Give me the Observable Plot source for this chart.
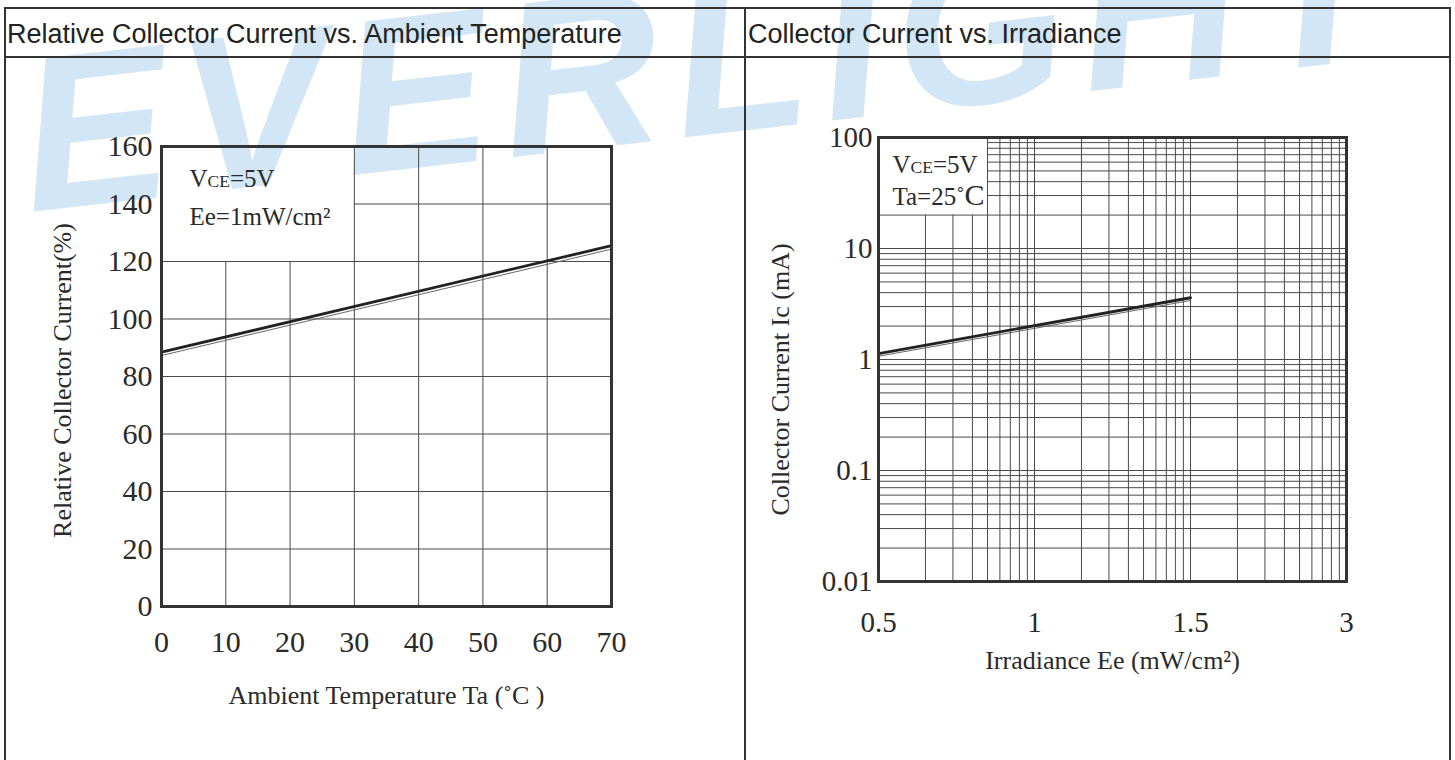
<!DOCTYPE html>
<html>
<head>
<meta charset="utf-8">
<script src="https://cdn.jsdelivr.net/npm/d3@7"></script>
<script src="https://cdn.jsdelivr.net/npm/@observablehq/plot@0.6"></script>
<style>
  html, body { margin: 0; padding: 0; background: #fff; }
  body { position: relative; width: 1455px; height: 760px; overflow: hidden; font-family: "Liberation Sans", Arial, sans-serif; }
  #wm { position: absolute; left: 0; top: 0; z-index: 0; }
  .line { position: absolute; background: #333; z-index: 1; }
  .hdr { position: absolute; top: 11px; height: 46px; line-height: 46px; font-size: 27px; color: #222; z-index: 2; white-space: nowrap; }
  .chart { position: absolute; top: 58px; z-index: 3; }
</style>
</head>
<body>
<svg id="wm" width="1455" height="760">
  <text x="30" y="212" transform="rotate(-6.5 30 212)" font-family="Liberation Sans" font-weight="bold" font-style="italic" font-size="220" fill="#d3e6f5" letter-spacing="14">EVERLIGHT</text>
</svg>
<div class="line" style="left:4px;top:7px;width:1447px;height:2px"></div>
<div class="line" style="left:4px;top:56px;width:1447px;height:2px"></div>
<div class="line" style="left:4px;top:7px;width:2px;height:760px"></div>
<div class="line" style="left:1449px;top:7px;width:2px;height:760px"></div>
<div class="line" style="left:744px;top:7px;width:2px;height:760px"></div>
<div class="hdr" id="h1" style="left:7px"></div>
<div class="hdr" id="h2" style="left:748px"></div>
<div class="chart" id="c1" style="left:6px"></div>
<div class="chart" id="c2" style="left:746px"></div>
<script>
// ---------- data ----------
const titles = ["Relative Collector Current vs. Ambient Temperature", "Collector Current vs. Irradiance"];

// Chart 1: relative collector current vs ambient temperature
const taValues = [0, 70];
const relThick = [88.5, 125.5];
const relThin = [87.3, 124.3];
const taTicks = [0, 10, 20, 30, 40, 50, 60, 70];
const relTicks = [0, 20, 40, 60, 80, 100, 120, 140, 160];
const leftAnno = ["VCE=5V", "Ee=1mW/cm²"];
const leftXTitle = "Ambient Temperature Ta (˚C )";
const leftYTitle = "Relative Collector Current(%)";

// Chart 2: collector current vs irradiance (log-log sheet)
const irrValues = [0.5, 1.5];
const icThick = [1.13, 3.6];
const icThin = [1.07, 3.4];
const irrTickLabels = [0.5, 1, 1.5, 3];
const icTicks = [0.01, 0.1, 1, 10, 100];
const rightAnno = ["VCE=5V", "Ta=25˚C"];
const rightXTitle = "Irradiance Ee (mW/cm²)";
const rightYTitle = "Collector Current Ic (mA)";

document.getElementById("h1").textContent = titles[0];
document.getElementById("h2").textContent = titles[1];

const serif = "Liberation Serif, Times New Roman, serif";
const ink = "#2a2a2a";
const gridColor = "#4a4a4a";

function fixAnno(svg) {
  d3.select(svg).selectAll("text").each(function () {
    const t = this.textContent;
    if (t === "VCE=5V") {
      const s = d3.select(this);
      s.text(null);
      s.append("tspan").text("V");
      s.append("tspan").attr("font-size", "0.7em").text("CE");
      s.append("tspan").text("=5V");
    } else if (t === "Ta=25˚C") {
      const s = d3.select(this);
      s.text(null);
      s.append("tspan").text("Ta=25˚");
      s.append("tspan").attr("font-size", "1.2em").text("C");
    }
  });
}

// ---------- chart 1 ----------
{
  const xMax = taTicks[taTicks.length - 1];
  const yMax = relTicks[relTicks.length - 1];
  const boxX = 30, boxY = 120; // annotation box (data units)
  const thick = taValues.map((t, i) => ({t, v: relThick[i]}));
  const thin = taValues.map((t, i) => ({t, v: relThin[i]}));
  const svg = Plot.plot({
    width: 738, height: 700,
    marginLeft: 155, marginRight: 133, marginTop: 88, marginBottom: 152,
    x: {domain: [0, xMax]},
    y: {domain: [0, yMax]},
    style: {fontFamily: serif, background: "transparent", color: ink},
    marks: [
      Plot.ruleX(taTicks.slice(1, -1), {x: d => d, y1: 0, y2: d => d < boxX ? boxY : yMax, stroke: gridColor, strokeWidth: 1}),
      Plot.ruleY(relTicks.slice(1, -1), {y: d => d, x1: d => d > boxY ? boxX : 0, x2: xMax, stroke: gridColor, strokeWidth: 1}),
      Plot.line(thin, {x: "t", y: "v", stroke: "#666", strokeWidth: 1}),
      Plot.line(thick, {x: "t", y: "v", stroke: "#222", strokeWidth: 2.8}),
      Plot.frame({stroke: "#333", strokeWidth: 3}),
      Plot.axisY({ticks: relTicks, tickSize: 0, tickPadding: 9, fontSize: 30, label: null}),
      Plot.axisX({ticks: taTicks, tickSize: 0, tickPadding: 24, fontSize: 30, label: null}),
      Plot.text([leftAnno[0]], {text: d => d, frameAnchor: "top-left", textAnchor: "start", lineAnchor: "bottom", dx: 28, dy: 40, fontSize: 25}),
      Plot.text([leftAnno[1]], {text: d => d, frameAnchor: "top-left", textAnchor: "start", lineAnchor: "bottom", dx: 28, dy: 78, fontSize: 25}),
      Plot.text([leftXTitle], {text: d => d, frameAnchor: "bottom", textAnchor: "middle", lineAnchor: "middle", dy: 89, fontSize: 26}),
      Plot.text([leftYTitle], {text: d => d, frameAnchor: "left", textAnchor: "middle", rotate: -90, lineAnchor: "middle", dx: -99, dy: 4, fontSize: 26})
    ]
  });
  fixAnno(svg);
  document.getElementById("c1").appendChild(svg);
}

// ---------- chart 2 ----------
{
  const xTickPos = irrTickLabels.map((_, i) => 10 ** i);
  const xDomain = [xTickPos[0], xTickPos[xTickPos.length - 1]];
  const yDomain = [icTicks[0], icTicks[icTicks.length - 1]];
  const xPos = e => 10 ** irrTickLabels.indexOf(e);
  const xGrid = d3.scaleLog().domain(xDomain).ticks().filter(v => v > xDomain[0] && v < xDomain[1]);
  const yGrid = d3.scaleLog().domain(yDomain).ticks().filter(v => v > yDomain[0] * 1.001 && v < yDomain[1] * 0.999);
  const boxX = 5, boxY = 20; // annotation box (scale units)
  const thick = irrValues.map((e, i) => ({e, v: icThick[i]}));
  const thin = irrValues.map((e, i) => ({e, v: icThin[i]}));
  const svg = Plot.plot({
    width: 703, height: 700,
    marginLeft: 132, marginRight: 103, marginTop: 79, marginBottom: 177,
    x: {type: "log", domain: xDomain},
    y: {type: "log", domain: yDomain},
    style: {fontFamily: serif, background: "transparent", color: ink},
    marks: [
      Plot.ruleX(xGrid, {x: d => d, y1: yDomain[0], y2: d => d < boxX * 0.99 ? boxY : yDomain[1], stroke: gridColor, strokeWidth: 1}),
      Plot.ruleY(yGrid, {y: d => d, x1: d => d > boxY * 1.01 ? boxX : xDomain[0], x2: xDomain[1], stroke: gridColor, strokeWidth: 1}),
      Plot.line(thin, {x: d => xPos(d.e), y: "v", stroke: "#666", strokeWidth: 1}),
      Plot.line(thick, {x: d => xPos(d.e), y: "v", stroke: "#222", strokeWidth: 2.8}),
      Plot.frame({stroke: "#333", strokeWidth: 3}),
      Plot.axisY({ticks: icTicks, tickFormat: d => String(d), tickSize: 0, tickPadding: 6, fontSize: 29, label: null}),
      Plot.axisX({ticks: xTickPos, tickFormat: d => String(irrTickLabels[xTickPos.indexOf(d)]), tickSize: 0, tickPadding: 30, fontSize: 29, label: null}),
      Plot.text([rightAnno[0]], {text: d => d, frameAnchor: "top-left", textAnchor: "start", lineAnchor: "bottom", dx: 14, dy: 35, fontSize: 25}),
      Plot.text([rightAnno[1]], {text: d => d, frameAnchor: "top-left", textAnchor: "start", lineAnchor: "bottom", dx: 14, dy: 67, fontSize: 25}),
      Plot.text([rightXTitle], {text: d => d, frameAnchor: "bottom", textAnchor: "middle", lineAnchor: "middle", dy: 79, fontSize: 26}),
      Plot.text([rightYTitle], {text: d => d, frameAnchor: "left", textAnchor: "middle", rotate: -90, lineAnchor: "middle", dx: -98, dy: 20, fontSize: 26})
    ]
  });
  fixAnno(svg);
  document.getElementById("c2").appendChild(svg);
}
</script>
</body>
</html>
